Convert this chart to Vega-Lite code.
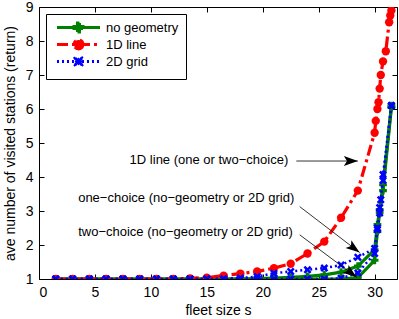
{
  "$schema": "https://vega.github.io/schema/vega-lite/v6.json",
  "width": 358,
  "height": 272,
  "autosize": {"type": "none"},
  "padding": {"left": 39, "top": 7, "right": 2, "bottom": 40},
  "background": "white",
  "config": {
    "font": "Liberation Sans",
    "view": {"stroke": "black", "strokeWidth": 1},
    "axis": {"grid": false, "domain": false, "tickColor": "black", "labelColor": "black", "titleColor": "black", "labelFont": "Liberation Sans", "titleFont": "Liberation Sans", "labelFontSize": 14, "titleFontSize": 14, "titleFontWeight": "normal", "tickSize": -5, "labelPadding": 11},
    "legend": {"title": null, "orient": "top-left", "offset": 7, "padding": 7, "strokeColor": "black", "fillColor": "white", "cornerRadius": 0, "symbolSize": 81, "symbolStrokeWidth": 3, "labelFontSize": 13, "labelFont": "Liberation Sans", "labelColor": "black", "labelOffset": 40, "rowPadding": -5.5, "symbolOpacity": 1}
  },
  "datasets": {
    "curves": [
      {"s":1.5,"v":1,"geometry":"no geometry","choice":"one"},{"s":3,"v":1,"geometry":"no geometry","choice":"one"},{"s":4.5,"v":1,"geometry":"no geometry","choice":"one"},{"s":6,"v":1,"geometry":"no geometry","choice":"one"},{"s":7.5,"v":1,"geometry":"no geometry","choice":"one"},{"s":9,"v":1,"geometry":"no geometry","choice":"one"},{"s":10.5,"v":1,"geometry":"no geometry","choice":"one"},{"s":12,"v":1,"geometry":"no geometry","choice":"one"},{"s":13.5,"v":1,"geometry":"no geometry","choice":"one"},{"s":15,"v":1,"geometry":"no geometry","choice":"one"},{"s":16.5,"v":1,"geometry":"no geometry","choice":"one"},{"s":18,"v":1,"geometry":"no geometry","choice":"one"},{"s":19.5,"v":1.01,"geometry":"no geometry","choice":"one"},{"s":21,"v":1.03,"geometry":"no geometry","choice":"one"},{"s":22.5,"v":1.05,"geometry":"no geometry","choice":"one"},{"s":24,"v":1.08,"geometry":"no geometry","choice":"one"},{"s":25.5,"v":1.12,"geometry":"no geometry","choice":"one"},{"s":27,"v":1.2,"geometry":"no geometry","choice":"one"},{"s":28.5,"v":1.38,"geometry":"no geometry","choice":"one"},{"s":30,"v":1.86,"geometry":"no geometry","choice":"one"},{"s":30.25,"v":2.6,"geometry":"no geometry","choice":"one"},{"s":30.45,"v":3.04,"geometry":"no geometry","choice":"one"},{"s":30.75,"v":3.77,"geometry":"no geometry","choice":"one"},{"s":31.5,"v":6.1,"geometry":"no geometry","choice":"one"},
      {"s":1.5,"v":1,"geometry":"no geometry","choice":"two"},{"s":3,"v":1,"geometry":"no geometry","choice":"two"},{"s":4.5,"v":1,"geometry":"no geometry","choice":"two"},{"s":6,"v":1,"geometry":"no geometry","choice":"two"},{"s":7.5,"v":1,"geometry":"no geometry","choice":"two"},{"s":9,"v":1,"geometry":"no geometry","choice":"two"},{"s":10.5,"v":1,"geometry":"no geometry","choice":"two"},{"s":12,"v":1,"geometry":"no geometry","choice":"two"},{"s":13.5,"v":1,"geometry":"no geometry","choice":"two"},{"s":15,"v":1,"geometry":"no geometry","choice":"two"},{"s":16.5,"v":1,"geometry":"no geometry","choice":"two"},{"s":18,"v":1,"geometry":"no geometry","choice":"two"},{"s":19.5,"v":1,"geometry":"no geometry","choice":"two"},{"s":21,"v":1,"geometry":"no geometry","choice":"two"},{"s":22.5,"v":1,"geometry":"no geometry","choice":"two"},{"s":24,"v":1,"geometry":"no geometry","choice":"two"},{"s":25.5,"v":1,"geometry":"no geometry","choice":"two"},{"s":27,"v":1,"geometry":"no geometry","choice":"two"},{"s":28.5,"v":1.04,"geometry":"no geometry","choice":"two"},{"s":30,"v":1.55,"geometry":"no geometry","choice":"two"},{"s":30.25,"v":2.4,"geometry":"no geometry","choice":"two"},{"s":30.45,"v":2.95,"geometry":"no geometry","choice":"two"},{"s":30.75,"v":3.6,"geometry":"no geometry","choice":"two"},{"s":31.5,"v":6.05,"geometry":"no geometry","choice":"two"},
      {"s":1.5,"v":1,"geometry":"1D line","choice":"one or two"},{"s":3,"v":1,"geometry":"1D line","choice":"one or two"},{"s":4.5,"v":1,"geometry":"1D line","choice":"one or two"},{"s":6,"v":1,"geometry":"1D line","choice":"one or two"},{"s":7.5,"v":1,"geometry":"1D line","choice":"one or two"},{"s":9,"v":1,"geometry":"1D line","choice":"one or two"},{"s":10.5,"v":1,"geometry":"1D line","choice":"one or two"},{"s":12,"v":1,"geometry":"1D line","choice":"one or two"},{"s":13.5,"v":1.02,"geometry":"1D line","choice":"one or two"},{"s":15,"v":1.04,"geometry":"1D line","choice":"one or two"},{"s":16.5,"v":1.1,"geometry":"1D line","choice":"one or two"},{"s":18,"v":1.16,"geometry":"1D line","choice":"one or two"},{"s":19.5,"v":1.22,"geometry":"1D line","choice":"one or two"},{"s":21,"v":1.32,"geometry":"1D line","choice":"one or two"},{"s":22.5,"v":1.45,"geometry":"1D line","choice":"one or two"},{"s":24,"v":1.75,"geometry":"1D line","choice":"one or two"},{"s":25.5,"v":2.1,"geometry":"1D line","choice":"one or two"},{"s":27,"v":2.8,"geometry":"1D line","choice":"one or two"},{"s":28.5,"v":3.6,"geometry":"1D line","choice":"one or two"},{"s":30,"v":5.3,"geometry":"1D line","choice":"one or two"},{"s":30.1,"v":5.65,"geometry":"1D line","choice":"one or two"},{"s":30.25,"v":6.0,"geometry":"1D line","choice":"one or two"},{"s":30.35,"v":6.2,"geometry":"1D line","choice":"one or two"},{"s":30.45,"v":6.6,"geometry":"1D line","choice":"one or two"},{"s":30.55,"v":7.0,"geometry":"1D line","choice":"one or two"},{"s":30.75,"v":7.4,"geometry":"1D line","choice":"one or two"},{"s":31.0,"v":7.7,"geometry":"1D line","choice":"one or two"},{"s":31.3,"v":8.55,"geometry":"1D line","choice":"one or two"},{"s":31.4,"v":8.75,"geometry":"1D line","choice":"one or two"},{"s":31.5,"v":8.9,"geometry":"1D line","choice":"one or two"},
      {"s":1.5,"v":1,"geometry":"2D grid","choice":"one"},{"s":3,"v":1,"geometry":"2D grid","choice":"one"},{"s":4.5,"v":1,"geometry":"2D grid","choice":"one"},{"s":6,"v":1,"geometry":"2D grid","choice":"one"},{"s":7.5,"v":1,"geometry":"2D grid","choice":"one"},{"s":9,"v":1,"geometry":"2D grid","choice":"one"},{"s":10.5,"v":1,"geometry":"2D grid","choice":"one"},{"s":12,"v":1,"geometry":"2D grid","choice":"one"},{"s":13.5,"v":1,"geometry":"2D grid","choice":"one"},{"s":15,"v":1,"geometry":"2D grid","choice":"one"},{"s":16.5,"v":1.01,"geometry":"2D grid","choice":"one"},{"s":18,"v":1.03,"geometry":"2D grid","choice":"one"},{"s":19.5,"v":1.07,"geometry":"2D grid","choice":"one"},{"s":21,"v":1.17,"geometry":"2D grid","choice":"one"},{"s":22.5,"v":1.22,"geometry":"2D grid","choice":"one"},{"s":24,"v":1.27,"geometry":"2D grid","choice":"one"},{"s":25.5,"v":1.32,"geometry":"2D grid","choice":"one"},{"s":27,"v":1.41,"geometry":"2D grid","choice":"one"},{"s":28.5,"v":1.64,"geometry":"2D grid","choice":"one"},{"s":30,"v":1.9,"geometry":"2D grid","choice":"one"},{"s":30.25,"v":2.45,"geometry":"2D grid","choice":"one"},{"s":30.45,"v":2.94,"geometry":"2D grid","choice":"one"},{"s":30.55,"v":3.33,"geometry":"2D grid","choice":"one"},{"s":30.75,"v":4.07,"geometry":"2D grid","choice":"one"},{"s":31.5,"v":6.1,"geometry":"2D grid","choice":"one"},
      {"s":1.5,"v":1,"geometry":"2D grid","choice":"two"},{"s":3,"v":1,"geometry":"2D grid","choice":"two"},{"s":4.5,"v":1,"geometry":"2D grid","choice":"two"},{"s":6,"v":1,"geometry":"2D grid","choice":"two"},{"s":7.5,"v":1,"geometry":"2D grid","choice":"two"},{"s":9,"v":1,"geometry":"2D grid","choice":"two"},{"s":10.5,"v":1,"geometry":"2D grid","choice":"two"},{"s":12,"v":1,"geometry":"2D grid","choice":"two"},{"s":13.5,"v":1,"geometry":"2D grid","choice":"two"},{"s":15,"v":1,"geometry":"2D grid","choice":"two"},{"s":16.5,"v":1,"geometry":"2D grid","choice":"two"},{"s":18,"v":1,"geometry":"2D grid","choice":"two"},{"s":19.5,"v":1,"geometry":"2D grid","choice":"two"},{"s":21,"v":1,"geometry":"2D grid","choice":"two"},{"s":22.5,"v":1,"geometry":"2D grid","choice":"two"},{"s":24,"v":1,"geometry":"2D grid","choice":"two"},{"s":25.5,"v":1,"geometry":"2D grid","choice":"two"},{"s":27,"v":1.02,"geometry":"2D grid","choice":"two"},{"s":28.5,"v":1.18,"geometry":"2D grid","choice":"two"},{"s":30,"v":1.75,"geometry":"2D grid","choice":"two"},{"s":30.25,"v":2.5,"geometry":"2D grid","choice":"two"},{"s":30.45,"v":3.1,"geometry":"2D grid","choice":"two"},{"s":30.75,"v":3.9,"geometry":"2D grid","choice":"two"},{"s":31.5,"v":6.1,"geometry":"2D grid","choice":"two"}
    ],
    "notes": [
      {"s":8.1,"v":4.5,"text":"1D line (one or two−choice)","s2":28.5,"v2":4.47,"s1":23.0,"v1":4.47,"dir":"flat"},
      {"s":3.5,"v":3.38,"text":"one−choice (no−geometry or 2D grid)","s2":28.66,"v2":1.78,"s1":23.3,"v1":3.13,"dir":"down"},
      {"s":3.5,"v":2.38,"text":"two−choice (no−geometry or 2D grid)","s2":28.4,"v2":1.05,"s1":23.3,"v1":2.3,"dir":"down"}
    ]
  },
  "resolve": {"axis": {"x": "independent", "y": "independent"}},
  "layer": [
    {
      "data": {"name": "curves"},
      "transform": [{"filter": "datum.geometry === 'no geometry'"}],
      "mark": {"type": "line", "strokeWidth": 3.2, "color": "#008000", "clip": true},
      "encoding": {
        "x": {"field": "s", "type": "quantitative", "scale": {"domain": [0, 32], "nice": false, "zero": false}, "axis": {"orient": "bottom", "values": [0,5,10,15,20,25,30], "title": "fleet size s", "titlePadding": 4}},
        "y": {"field": "v", "type": "quantitative", "scale": {"domain": [1, 9], "nice": false, "zero": false}, "axis": {"orient": "left", "values": [1,2,3,4,5,6,7,8,9], "title": "ave number of visited stations (return)", "titlePadding": 8}},
        "detail": {"field": "choice"},
        "order": {"field": "s", "type": "quantitative"}
      }
    },
    {
      "data": {"name": "curves"},
      "transform": [{"filter": "datum.geometry === 'no geometry'"}],
      "mark": {"type": "point", "filled": true, "opacity": 1, "size": 60, "shape": "cross", "color": "#008000", "clip": true},
      "encoding": {
        "x": {"field": "s", "type": "quantitative", "axis": {"orient": "top", "values": [0,5,10,15,20,25,30], "labels": false, "title": null}},
        "y": {"field": "v", "type": "quantitative", "axis": {"orient": "right", "values": [1,2,3,4,5,6,7,8,9], "labels": false, "title": null}}
      }
    },
    {
      "data": {"name": "curves"},
      "transform": [{"filter": "datum.geometry === '1D line'"}],
      "mark": {"type": "line", "strokeWidth": 3.2, "color": "#ff0000", "strokeDash": [11, 4, 3, 4], "clip": true},
      "encoding": {
        "x": {"field": "s", "type": "quantitative", "axis": null},
        "y": {"field": "v", "type": "quantitative", "axis": null},
        "detail": {"field": "choice"},
        "order": {"field": "s", "type": "quantitative"}
      }
    },
    {
      "data": {"name": "curves"},
      "transform": [{"filter": "datum.geometry === '1D line'"}],
      "mark": {"type": "point", "filled": true, "opacity": 1, "size": 70, "shape": "circle", "color": "#ff0000", "clip": true},
      "encoding": {
        "x": {"field": "s", "type": "quantitative", "axis": null},
        "y": {"field": "v", "type": "quantitative", "axis": null}
      }
    },
    {
      "data": {"name": "curves"},
      "transform": [{"filter": "datum.geometry === '2D grid'"}],
      "mark": {"type": "line", "strokeWidth": 2.5, "color": "#0000ff", "strokeDash": [2, 3], "clip": true},
      "encoding": {
        "x": {"field": "s", "type": "quantitative", "axis": null},
        "y": {"field": "v", "type": "quantitative", "axis": null},
        "detail": {"field": "choice"},
        "order": {"field": "s", "type": "quantitative"}
      }
    },
    {
      "data": {"name": "curves"},
      "transform": [{"filter": "datum.geometry === '2D grid'"}],
      "mark": {"type": "point", "filled": true, "opacity": 1, "size": 64, "color": "#0000ff", "clip": true, "shape": "M -1 -0.55 L -0.55 -1 L 0 -0.45 L 0.55 -1 L 1 -0.55 L 0.45 0 L 1 0.55 L 0.55 1 L 0 0.45 L -0.55 1 L -1 0.55 L -0.45 0 Z"},
      "encoding": {
        "x": {"field": "s", "type": "quantitative", "axis": null},
        "y": {"field": "v", "type": "quantitative", "axis": null}
      }
    },
    {
      "data": {"name": "curves"},
      "transform": [{"filter": "false"}],
      "mark": {"type": "point", "filled": true, "opacity": 1, "strokeWidth": 3},
      "encoding": {
        "color": {"field": "geometry", "type": "nominal", "scale": {"domain": ["no geometry", "1D line", "2D grid"], "range": ["#008000", "#ff0000", "#0000ff"]},
          "legend": {"encode": {"symbols": {"update": {"fill": {"scale": "color", "field": "value"}, "fillOpacity": {"value": 1}, "stroke": {"scale": "color", "field": "value"}, "strokeOpacity": {"value": 1}, "strokeWidth": {"value": 3}}}}}},
        "strokeDash": {"field": "geometry", "type": "nominal", "scale": {"domain": ["no geometry", "1D line", "2D grid"], "range": [[1, 0], [11, 4, 3, 4], [2, 3]]}},
        "shape": {"field": "geometry", "type": "nominal", "scale": {"domain": ["no geometry", "1D line", "2D grid"], "range": [
          "M -0.556 0 L 9 0 M 3.22 -0.22 L 4 -0.22 L 4 -1 L 4.44 -1 L 4.44 -0.22 L 5.22 -0.22 L 5.22 0.22 L 4.44 0.22 L 4.44 1 L 4 1 L 4 0.22 L 3.22 0.22 Z",
          "M -0.556 0 L 9 0 M 5.22 0 A 1 1 0 1 1 3.22 0 A 1 1 0 1 1 5.22 0 Z",
          "M -0.556 0 L 9 0 M 3.22 -0.55 L 3.67 -1 L 4.22 -0.45 L 4.77 -1 L 5.22 -0.55 L 4.67 0 L 5.22 0.55 L 4.77 1 L 4.22 0.45 L 3.67 1 L 3.22 0.55 L 3.77 0 Z"
        ]}}
      }
    },
    {
      "data": {"name": "notes"},
      "mark": {"type": "rule", "color": "black", "strokeWidth": 0.8},
      "encoding": {
        "x": {"field": "s1", "type": "quantitative", "axis": null},
        "y": {"field": "v1", "type": "quantitative", "axis": null},
        "x2": {"field": "s2"},
        "y2": {"field": "v2"}
      }
    },
    {
      "data": {"name": "notes"},
      "transform": [{"filter": "datum.dir === 'flat'"}],
      "mark": {"type": "point", "filled": true, "color": "black", "opacity": 1, "size": 196, "angle": 0, "shape": "M 0 0 L -2 -0.7 L -1.55 0 L -2 0.7 Z"},
      "encoding": {
        "x": {"field": "s2", "type": "quantitative", "axis": null},
        "y": {"field": "v2", "type": "quantitative", "axis": null}
      }
    },
    {
      "data": {"name": "notes"},
      "transform": [{"filter": "datum.dir === 'down'"}],
      "mark": {"type": "point", "filled": true, "color": "black", "opacity": 1, "size": 196, "angle": 37, "shape": "M 0 0 L -2 -0.7 L -1.55 0 L -2 0.7 Z"},
      "encoding": {
        "x": {"field": "s2", "type": "quantitative", "axis": null},
        "y": {"field": "v2", "type": "quantitative", "axis": null}
      }
    },
    {
      "data": {"name": "notes"},
      "mark": {"type": "text", "align": "left", "baseline": "middle", "fontSize": 13, "color": "black", "font": "Liberation Sans"},
      "encoding": {
        "x": {"field": "s", "type": "quantitative", "axis": null},
        "y": {"field": "v", "type": "quantitative", "axis": null},
        "text": {"field": "text"}
      }
    }
  ]
}
